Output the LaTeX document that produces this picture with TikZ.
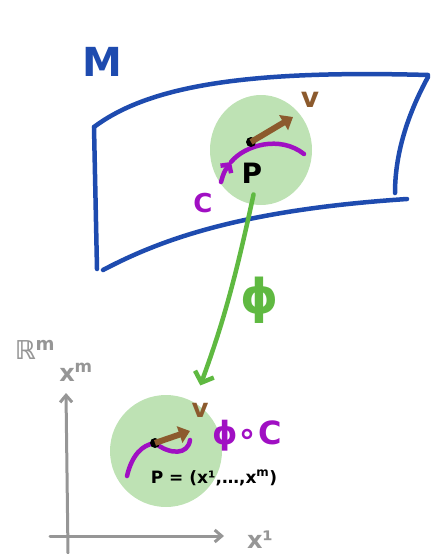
\documentclass[tikz,border=0pt]{standalone}
\usepackage{fontspec}
\setmainfont{DejaVu Sans}
\usetikzlibrary{arrows.meta,shapes.geometric}
\definecolor{sheetblue}{RGB}{30,75,175}
\definecolor{mapgreen}{RGB}{95,185,65}
\definecolor{nbhdgreen}{RGB}{190,226,180}
\definecolor{curvepurple}{RGB}{160,15,195}
\definecolor{vecbrown}{RGB}{140,90,45}
\definecolor{axisgray}{RGB}{150,150,150}
\newcommand{\fs}[1]{\fontsize{#1}{#1}\selectfont\bfseries}
\begin{document}
\begin{tikzpicture}[x=1pt,y=-1pt,
  sheet/.style={draw=sheetblue,line width=4.5pt,line cap=round},
  nbhd/.style={ellipse,fill=nbhdgreen,inner sep=0pt},
  curve/.style={draw=curvepurple,line width=4.5pt,line cap=round},
  tangent/.style={draw=vecbrown,line width=6pt,-{Triangle[length=11pt,width=17pt]}},
  maparrow/.style={draw=mapgreen,line width=4.5pt,line cap=round,-{Straight Barb[length=9pt,width=20pt]}},
  axis/.style={draw=axisgray,line width=3pt,line cap=round,-{Straight Barb[length=7pt,width=12pt]}},
  pt/.style={circle,fill=black,inner sep=0pt,minimum size=10pt}]
\useasboundingbox (0,0) rectangle (431,554);

\node[nbhd,minimum width=102pt,minimum height=110pt] (U) at (261,150) {};
\node[nbhd,minimum width=112pt,minimum height=112pt] (V) at (166,451) {};

\draw[sheet] (94,127) .. controls (150,85) and (250,70) .. (428,75);
\draw[sheet] (428,77) .. controls (410,110) and (395,150) .. (395,193);
\draw[sheet] (103,270) .. controls (160,240) and (240,210) .. (407,199);
\draw[sheet] (94,127) -- (97,269);
\node[text=sheetblue] (M) at (102,62) {\fs{40}M};

\draw[curve,-{Straight Barb[length=6pt,width=13pt]}] (221,182) .. controls (224,172) .. (231,162);
\draw[curve] (231,162) .. controls (245,145) and (280,135) .. (304,154);
\node[pt] (p) at (251,142) {};
\coordinate (vtip) at (293,117);
\draw[tangent] (p.center) -- (vtip);
\node (plbl) at (252,173) {\fs{28}P};
\node[text=curvepurple] (clbl) at (203,203) {\fs{26}C};
\node[text=vecbrown] (vlbl) at (310,100) {\fs{28}v};

\draw[maparrow,shorten <=-10pt,shorten >=18pt] (U.-100) to[bend left=4] (V.60);
\node[text=mapgreen] (philbl) at (260,300) {\fs{48}ϕ};

\coordinate (ybot) at (68,553);
\coordinate (ytop) at (66,393);
\coordinate (xleft) at (50,536);
\coordinate (xright) at (224,536);
\draw[axis] (ybot) -- (ytop);
\draw[axis] (xleft) -- (xright);
\node[text=axisgray] (Rm) at (35,350) {\fs{26}ℝ\textsuperscript{m}};
\node[text=axisgray] (xm) at (76,372) {\fs{24}x\textsuperscript{m}};
\node[text=axisgray] (x1) at (260,540) {\fs{24}x¹};

\draw[curve] (127,476) .. controls (132,455) and (142,445) .. (155,443) .. controls (170,455) and (188,455) .. (190,440);
\node[pt] (q) at (155,443) {};
\coordinate (wtip) at (190,431);
\draw[tangent] (q.center) -- (wtip);
\node[text=vecbrown] (wlbl) at (200,410) {\fs{26}v};
\node[text=curvepurple] (phiclbl) at (247,436) {\fs{32}ϕ∘C};
\node (coords) at (214,478) {\fs{17}P = (x¹,…,x\textsuperscript{m})};
\end{tikzpicture}
\end{document}
